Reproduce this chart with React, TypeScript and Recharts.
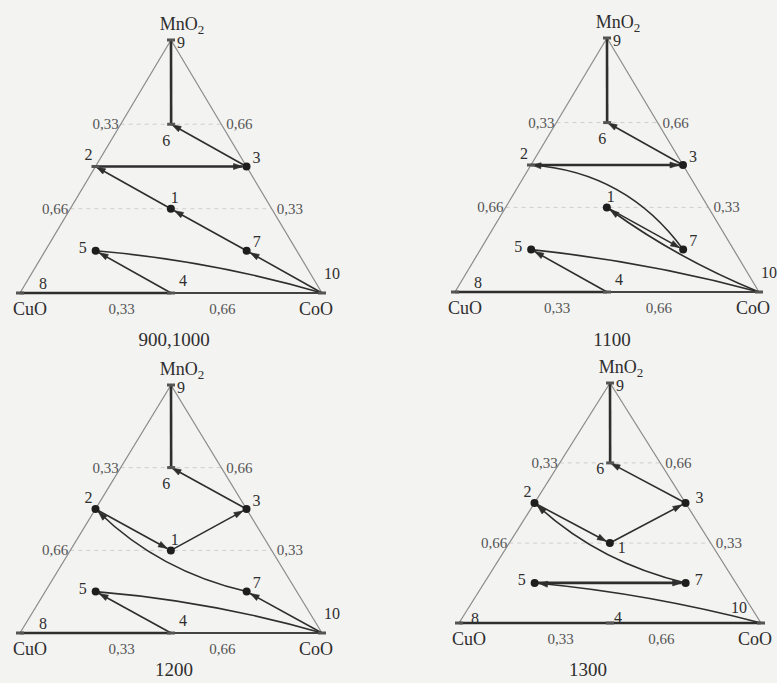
import { ReferenceLine, Scatter, ScatterChart, XAxis, YAxis } from "recharts";

// compositions of the ten points (mole fractions)
const pointIds = [1, 2, 3, 4, 5, 6, 7, 8, 9, 10];
const fracCuO = [0.333, 0.5, 0, 0.5, 0.667, 0.167, 0.167, 1, 0, 0];
const fracCoO = [0.333, 0, 0.5, 0.5, 0.167, 0.167, 0.667, 0, 0, 1];
const fracMnO2 = [0.333, 0.5, 0.5, 0, 0.167, 0.667, 0.167, 0, 1, 0];

const cornerNames = ["CuO", "CoO", "MnO"];
const leftTicks = [
  { label: "0,33", mno2: 0.667 },
  { label: "0,66", mno2: 0.333 },
];
const rightTicks = [
  { label: "0,66", mno2: 0.667 },
  { label: "0,33", mno2: 0.333 },
];
const baseTicks = [
  { label: "0,33", coo: 0.333 },
  { label: "0,66", coo: 0.667 },
];

const panelTitles = ["900,1000", "1100", "1200", "1300"];
const filledPoints = [
  [1, 3, 5, 7],
  [1, 3, 5, 7],
  [1, 2, 3, 5, 7],
  [1, 2, 3, 5, 7],
];

type Link = { from: number; to: number; head?: boolean; bend?: number };

const links900: Link[] = [
  { from: 9, to: 6 },
  { from: 3, to: 6, head: true },
  { from: 2, to: 3, head: true },
  { from: 1, to: 2, head: true },
  { from: 7, to: 1, head: true },
  { from: 10, to: 7, head: true },
  { from: 10, to: 5, bend: 0.05 },
  { from: 4, to: 5, head: true },
  { from: 8, to: 4 },
];
const links1100: Link[] = [
  { from: 9, to: 6 },
  { from: 3, to: 6, head: true },
  { from: 2, to: 3, head: true },
  { from: 7, to: 2, head: true, bend: 0.23 },
  { from: 1, to: 7, head: true },
  { from: 10, to: 1, head: true, bend: -0.06 },
  { from: 10, to: 5, bend: 0.04 },
  { from: 4, to: 5, head: true },
  { from: 8, to: 4 },
];
const links1200: Link[] = [
  { from: 9, to: 6 },
  { from: 3, to: 6, head: true },
  { from: 2, to: 1, head: true },
  { from: 1, to: 3, head: true },
  { from: 7, to: 2, head: true, bend: -0.14 },
  { from: 10, to: 7, head: true },
  { from: 10, to: 5, bend: 0.05 },
  { from: 4, to: 5, head: true },
  { from: 8, to: 4 },
];
const links1300: Link[] = [
  { from: 9, to: 6 },
  { from: 3, to: 6, head: true },
  { from: 2, to: 1, head: true },
  { from: 1, to: 3, head: true },
  { from: 7, to: 2, head: true, bend: -0.13 },
  { from: 5, to: 7, head: true },
  { from: 10, to: 5, head: true, bend: 0.04 },
  { from: 8, to: 10 },
];
const panelLinks = [links900, links1100, links1200, links1300];

// ---- layout / style ----
const FONT = "'Liberation Serif', 'Times New Roman', 'DejaVu Serif', serif";
const INK = "#2e2e2e";
const thickLinks = ["9-6", "2-3", "8-4", "5-7", "8-10"];

const panels = [
  { left: 20, base: 293, width: 302, height: 253, titleX: 174, titleY: 340 },
  { left: 455, base: 292, width: 304, height: 254, titleX: 612, titleY: 340 },
  { left: 20, base: 633, width: 302, height: 248, titleX: 174, titleY: 670 },
  { left: 459, base: 623, width: 302, height: 240, titleX: 588, titleY: 670 },
];
const M = { left: 40, right: 60, top: 45, bottom: 40 };

const labelOffset: Record<number, [number, number]> = {
  1: [4, -11],
  2: [-7, -12],
  3: [10, -9],
  4: [12, -13],
  5: [-13, -3],
  6: [-5, 16],
  7: [10, -9],
  8: [23, -10],
  9: [10, 2],
  10: [10, -20],
};
const labelOffset1300: Record<number, [number, number]> = {
  1: [12, 4],
  3: [14, -6],
  4: [8, -6],
  6: [-10, 6],
  7: [13, -3],
  8: [16, -5],
  10: [-22, -16],
};

const toXY = (i: number) => ({ x: fracCoO[i] + fracMnO2[i] / 2, y: fracMnO2[i] });
const pointData = pointIds.map((id, i) => ({ id, ...toXY(i) }));
const byId = (id: number) => pointData[id - 1];

function LinkShape(props: any) {
  const { x1, y1, x2, y2, link, thick, gap } = props;
  const dx = x2 - x1;
  const dy = y2 - y1;
  const bend = link.bend || 0;
  const qx = (x1 + x2) / 2 - dy * bend;
  const qy = (y1 + y2) / 2 + dx * bend;
  let tx = bend ? x2 - qx : dx;
  let ty = bend ? y2 - qy : dy;
  const tl = Math.hypot(tx, ty) || 1;
  tx /= tl;
  ty /= tl;
  const ex = x2 - tx * (link.head ? gap : 0);
  const ey = y2 - ty * (link.head ? gap : 0);
  const d = bend ? `M${x1},${y1} Q${qx},${qy} ${ex},${ey}` : `M${x1},${y1} L${ex},${ey}`;
  const L = 9;
  const W = 3;
  const bx = ex - tx * L;
  const by = ey - ty * L;
  return (
    <g>
      <path d={d} fill="none" stroke={INK} strokeWidth={thick ? 2.6 : 1.6} />
      {link.head && (
        <path
          d={`M${ex},${ey} L${bx - ty * W},${by + tx * W} L${bx + ty * W},${by - tx * W} Z`}
          fill={INK}
          stroke={INK}
          strokeWidth={0.6}
        />
      )}
    </g>
  );
}

function PointMark(props: any) {
  const { cx, cy, payload, filled, offsets } = props;
  const [ox, oy] = offsets[payload.id] || labelOffset[payload.id];
  return (
    <g>
      {filled ? (
        <circle cx={cx} cy={cy} r={4} fill="#1e1e1e" />
      ) : (
        <rect x={cx - 4} y={cy - 1.5} width={8} height={3} fill="#555" />
      )}
      <text
        x={cx + ox}
        y={cy + oy}
        textAnchor="middle"
        dominantBaseline="central"
        fontFamily={FONT}
        fontSize={16}
        fill={INK}
      >
        {payload.id}
      </text>
    </g>
  );
}

function TextMark(props: any) {
  const { cx, cy, payload } = props;
  if (payload.kind === "mno2") {
    return (
      <text x={cx + 11} y={cy - 10} textAnchor="middle" fontFamily={FONT} fontSize={18} fill={INK}>
        {cornerNames[2]}
        <tspan fontSize={13} dy={4}>
          2
        </tspan>
      </text>
    );
  }
  const cfg: Record<string, { dx: number; dy: number; anchor: string; size: number; color: string }> = {
    cuo: { dx: 10, dy: 16, anchor: "middle", size: 18, color: INK },
    coo: { dx: -6, dy: 16, anchor: "middle", size: 18, color: INK },
    left: { dx: -2, dy: 0, anchor: "end", size: 15, color: "#555" },
    right: { dx: 5, dy: 0, anchor: "start", size: 15, color: "#555" },
    base: { dx: 1, dy: 16, anchor: "middle", size: 15, color: "#555" },
  };
  const c = cfg[payload.kind];
  return (
    <text
      x={cx + c.dx}
      y={cy + c.dy}
      textAnchor={c.anchor}
      dominantBaseline="central"
      fontFamily={FONT}
      fontSize={c.size}
      fill={c.color}
    >
      {payload.text}
    </text>
  );
}

const textData = [
  { kind: "cuo", text: cornerNames[0], x: 0, y: 0 },
  { kind: "coo", text: cornerNames[1], x: 1, y: 0 },
  { kind: "mno2", text: cornerNames[2], x: 0.5, y: 1 },
  ...leftTicks.map((t) => ({ kind: "left", text: t.label, x: t.mno2 / 2, y: t.mno2 })),
  ...rightTicks.map((t) => ({ kind: "right", text: t.label, x: 1 - t.mno2 / 2, y: t.mno2 })),
  ...baseTicks.map((t) => ({ kind: "base", text: t.label, x: t.coo, y: 0 })),
];

function Panel({ index }: { index: number }) {
  const p = panels[index];
  const filled = filledPoints[index];
  const offsets = index === 3 ? labelOffset1300 : {};
  return (
    <div
      style={{
        position: "absolute",
        left: p.left - M.left,
        top: p.base - p.height - M.top,
      }}
    >
      <ScatterChart
        width={p.width + M.left + M.right}
        height={p.height + M.top + M.bottom}
        margin={M}
      >
        <XAxis type="number" dataKey="x" domain={[0, 1]} hide />
        <YAxis type="number" dataKey="y" domain={[0, 1]} hide />
        {[0.333, 0.667].map((g) => (
          <ReferenceLine
            key={`g${g}`}
            ifOverflow="visible"
            segment={[
              { x: g / 2, y: g },
              { x: 1 - g / 2, y: g },
            ]}
            stroke="#cfcfcf"
            strokeDasharray="4 4"
          />
        ))}
        <ReferenceLine
          ifOverflow="visible"
          segment={[
            { x: 0, y: 0 },
            { x: 0.5, y: 1 },
          ]}
          stroke="#8a8a8a"
          strokeWidth={1.2}
        />
        <ReferenceLine
          ifOverflow="visible"
          segment={[
            { x: 1, y: 0 },
            { x: 0.5, y: 1 },
          ]}
          stroke="#8a8a8a"
          strokeWidth={1.2}
        />
        <ReferenceLine
          ifOverflow="visible"
          segment={[
            { x: 0, y: 0 },
            { x: 1, y: 0 },
          ]}
          stroke="#444"
          strokeWidth={1.8}
        />
        {panelLinks[index].map((link) => {
          const a = byId(link.from);
          const b = byId(link.to);
          const key = `${link.from}-${link.to}`;
          const thick = thickLinks.includes(key);
          const gap = filled.includes(link.to) ? 4 : 1;
          return (
            <ReferenceLine
              key={key}
              ifOverflow="visible"
              segment={[
                { x: a.x, y: a.y },
                { x: b.x, y: b.y },
              ]}
              shape={(sp: any) => <LinkShape {...sp} link={link} thick={thick} gap={gap} />}
            />
          );
        })}
        <Scatter
          data={pointData}
          isAnimationActive={false}
          shape={(sp: any) => (
            <PointMark {...sp} filled={filled.includes(sp.payload.id)} offsets={offsets} />
          )}
        />
        <Scatter data={textData} isAnimationActive={false} shape={(sp: any) => <TextMark {...sp} />} />
      </ScatterChart>
    </div>
  );
}

export default function App() {
  return (
    <div
      style={{
        position: "absolute",
        left: 0,
        top: 0,
        width: 777,
        height: 683,
        overflow: "hidden",
        background: "#f3f3f1",
      }}
    >
      {panels.map((p, i) => (
        <Panel key={panelTitles[i]} index={i} />
      ))}
      {panels.map((p, i) => (
        <div
          key={`t${i}`}
          style={{
            position: "absolute",
            left: p.titleX - 100,
            top: p.titleY - 10,
            width: 200,
            lineHeight: "20px",
            textAlign: "center",
            fontFamily: FONT,
            fontSize: 19,
            color: INK,
          }}
        >
          {panelTitles[i]}
        </div>
      ))}
    </div>
  );
}
